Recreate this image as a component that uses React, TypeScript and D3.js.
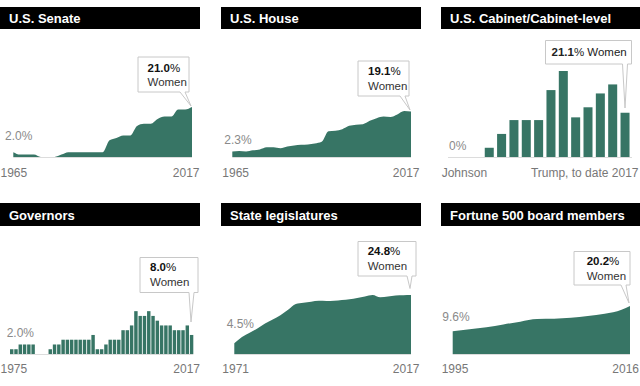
import * as d3 from 'd3';

// ---- data ----
const senateYears = [1965, 1967, 1969, 1971, 1973, 1975, 1977, 1979, 1981, 1983, 1985, 1987, 1989, 1991, 1993, 1995, 1997, 1999, 2001, 2003, 2005, 2007, 2009, 2011, 2013, 2015, 2017];
const senateShare = [2, 1, 1, 1, 0, 0, 0, 1, 2, 2, 2, 2, 2, 2, 7, 8, 9, 9, 13, 14, 14, 16, 17, 17, 20, 20, 21];

const houseYears = senateYears;
const houseShare = [2.3, 2.5, 2.3, 2.8, 3.2, 4.1, 4.1, 3.7, 4.4, 4.8, 5.1, 5.3, 5.7, 6.4, 10.8, 11.0, 11.7, 13.1, 13.6, 13.8, 15.2, 16.3, 17.0, 16.8, 17.9, 19.3, 19.1];

const cabinetTerms = ['Johnson', 'Nixon', 'Ford', 'Carter', 'Reagan I', 'Reagan II', 'Bush', 'Clinton I', 'Clinton II', 'Bush I', 'Bush II', 'Obama I', 'Obama II', 'Trump'];
const cabinetShare = [0, 0, 4.4, 11, 17.6, 17.6, 17.6, 31.9, 41, 18.9, 23.7, 30.3, 34.6, 21.1];

const governorYears = [1975, 1976, 1977, 1978, 1979, 1980, 1981, 1982, 1983, 1984, 1985, 1986, 1987, 1988, 1989, 1990, 1991, 1992, 1993, 1994, 1995, 1996, 1997, 1998, 1999, 2000, 2001, 2002, 2003, 2004, 2005, 2006, 2007, 2008, 2009, 2010, 2011, 2012, 2013, 2014, 2015, 2016, 2017];
const governorShare = [2, 2, 4, 4, 4, 4, 0, 0, 0, 2, 4, 4, 6, 6, 6, 6, 6, 6, 6, 8, 2, 2, 4, 6, 6, 6, 10, 10, 12, 18, 16, 16, 18, 16, 14, 12, 12, 12, 10, 10, 10, 12, 8];

const stateYears = [1971, 1973, 1975, 1977, 1979, 1981, 1983, 1985, 1987, 1989, 1991, 1993, 1995, 1997, 1999, 2001, 2003, 2005, 2007, 2009, 2011, 2013, 2015, 2017];
const stateShare = [4.5, 7.1, 8.9, 10.7, 12.8, 14.5, 16.3, 18.6, 21.0, 21.5, 22.0, 22.4, 22.3, 22.4, 22.7, 23.0, 23.5, 24.2, 24.8, 23.8, 24.2, 24.6, 24.7, 24.8];

const fortuneYears = [1995, 1997, 1999, 2001, 2003, 2005, 2007, 2009, 2011, 2013, 2014, 2016];
const fortuneShare = [9.6, 10.4, 11.2, 12.4, 13.6, 14.7, 14.8, 15.2, 16.0, 16.9, 17.5, 20.2];

const titles = ['U.S. Senate', 'U.S. House', 'U.S. Cabinet/Cabinet-level', 'Governors', 'State legislatures', 'Fortune 500 board members'];

const FONT = "'Liberation Sans', Arial, Helvetica, sans-serif";
const GREEN = '#377565';
const GRAY = '#8a8a8a';

const colX = [0, 221, 441];
const rowTop = [7, 203];
const rowBase = [157, 354];

// shared percent scale (px height)
const yPct = d3.scaleLinear().domain([0, 25]).range([0, 59.5]);
const yCab = d3.scaleLinear().domain([0, 41]).range([0, 86]);

type Ann = { x: number; y: number; w: number; h: number; px: number; py: number; num: string; one?: boolean; tx: number; b1: number; b2?: number };

function Callout({ a }: { a: Ann }) {
  const r = a.x + a.w;
  const bot = a.y + a.h;
  const d = `M${a.x},${a.y}H${r}V${bot}H${r - 4}L${a.px},${a.py}L${r - 9},${bot}H${a.x}Z`;
  return (
    <g fontFamily={FONT} fontSize={11.5}>
      <path d={d} fill="#fff" stroke="#c8c8c8" strokeWidth={1} />
      {a.one ? (
        <text x={a.tx} y={a.b1} fill="#222">
          <tspan fontWeight="bold">{a.num}</tspan>% Women
        </text>
      ) : (
        <>
          <text x={a.tx} y={a.b1} fill="#111">
            <tspan fontWeight="bold">{a.num}</tspan>%
          </text>
          <text x={a.tx} y={a.b2} fill="#333">Women</text>
        </>
      )}
    </g>
  );
}

function AreaPanel({ years, values, x0, x1, base }: { years: number[]; values: number[]; x0: number; x1: number; base: number }) {
  const x = d3.scaleLinear().domain(d3.extent(years) as [number, number]).range([x0, x1]);
  const area = d3
    .area<number>()
    .x((_, i) => x(years[i]))
    .y0(base)
    .y1((v) => base - yPct(v))
    .curve(d3.curveMonotoneX);
  return (
    <g>
      <line x1={x0} x2={x1} y1={base + 0.5} y2={base + 0.5} stroke="#dcdcdc" />
      <path d={area(values) || ''} fill={GREEN} />
    </g>
  );
}

function Title({ col, row, text }: { col: number; row: number; text: string }) {
  return (
    <g>
      <rect x={colX[col]} y={rowTop[row]} width={200} height={row === 0 ? 22 : 23} fill="#000" />
      <text x={colX[col] + 9} y={rowTop[row] + (row === 0 ? 15.7 : 17)} fill="#fff" fontFamily={FONT} fontWeight="bold" fontSize={13}>
        {text}
      </text>
    </g>
  );
}

function Label({ x, y, t, anchor = 'start', color = GRAY }: { x: number; y: number; t: string; anchor?: string; color?: string }) {
  return (
    <text x={x} y={y} textAnchor={anchor as any} fill={color} fontFamily={FONT} fontSize={12}>
      {t}
    </text>
  );
}

export default function App() {
  // cabinet bars
  const cabX = d3.scaleBand<string>().domain(cabinetTerms).range([458.4, 631.2]).paddingInner(0.27).paddingOuter(0.135);
  const govX = d3.scaleBand<number>().domain(governorYears).range([10, 193.3]).paddingInner(0.2);
  const cabBase = rowBase[0];
  const govBase = rowBase[1];

  const annotations: Ann[] = [
    { x: 138, y: 57, w: 51, h: 35, px: 191, py: 106, num: '21.0', tx: 147.5, b1: 71.7, b2: 86 },
    { x: 358, y: 61, w: 51, h: 35, px: 410, py: 110, num: '19.1', tx: 368, b1: 75, b2: 89.5 },
    { x: 545.5, y: 40.5, w: 86, h: 23.5, px: 625, py: 108, num: '21.1', one: true, tx: 551.5, b1: 56 },
    { x: 140, y: 257.5, w: 58, h: 35, px: 191, py: 322, num: '8.0', tx: 150, b1: 271, b2: 285.5 },
    { x: 358, y: 241.5, w: 58, h: 34.5, px: 410, py: 288.5, num: '24.8', tx: 367.7, b1: 255, b2: 270 },
    { x: 574, y: 251.5, w: 56, h: 33.5, px: 629, py: 303, num: '20.2', tx: 586.7, b1: 265, b2: 280 },
  ];

  return (
    <svg width={640} height={386} style={{ position: 'absolute', left: 0, top: 0, background: '#fff' }}>
      {titles.map((t, i) => (
        <Title key={t} col={i % 3} row={Math.floor(i / 3)} text={t} />
      ))}

      {/* row 1 */}
      <AreaPanel years={senateYears} values={senateShare} x0={13.3} x1={192} base={rowBase[0]} />
      <AreaPanel years={houseYears} values={houseShare} x0={232.3} x1={411} base={rowBase[0]} />
      <line x1={448} x2={632} y1={cabBase + 0.5} y2={cabBase + 0.5} stroke="#dcdcdc" />
      {cabinetTerms.map((t, i) => (
        <rect key={t} x={cabX(t)} y={cabBase - yCab(cabinetShare[i])} width={cabX.bandwidth()} height={yCab(cabinetShare[i])} fill={GREEN} />
      ))}

      {/* row 2 */}
      <line x1={10} x2={193.3} y1={govBase + 0.5} y2={govBase + 0.5} stroke="#dcdcdc" />
      {governorYears.map((yr, i) => (
        <rect key={yr} x={govX(yr)} y={govBase - yPct(governorShare[i])} width={govX.bandwidth()} height={yPct(governorShare[i])} fill={GREEN} />
      ))}
      <AreaPanel years={stateYears} values={stateShare} x0={234.3} x1={411} base={rowBase[1]} />
      <AreaPanel years={fortuneYears} values={fortuneShare} x0={452.7} x1={630} base={rowBase[1]} />

      {/* start values */}
      <Label x={5} y={140} t="2.0%" />
      <Label x={224.3} y={144} t="2.3%" />
      <Label x={449} y={150} t="0%" />
      <Label x={6.7} y={336.7} t="2.0%" />
      <Label x={226.7} y={327.7} t="4.5%" />
      <Label x={442.3} y={321} t="9.6%" />

      {/* axis ends */}
      <Label x={0.5} y={177.3} t="1965" color="#777" />
      <Label x={199.5} y={177.3} t="2017" anchor="end" color="#777" />
      <Label x={222.3} y={177.3} t="1965" color="#777" />
      <Label x={419.5} y={177.3} t="2017" anchor="end" color="#777" />
      <Label x={441.7} y={177.3} t="Johnson" color="#777" />
      <Label x={638.5} y={177.3} t="Trump, to date 2017" anchor="end" color="#777" />
      <Label x={0.5} y={373.3} t="1975" color="#777" />
      <Label x={200} y={373.3} t="2017" anchor="end" color="#777" />
      <Label x={222.3} y={373.3} t="1971" color="#777" />
      <Label x={419.5} y={373.3} t="2017" anchor="end" color="#777" />
      <Label x={441.7} y={373.3} t="1995" color="#777" />
      <Label x={639} y={373.3} t="2016" anchor="end" color="#777" />

      {annotations.map((a) => (
        <Callout key={a.num} a={a} />
      ))}
    </svg>
  );
}
